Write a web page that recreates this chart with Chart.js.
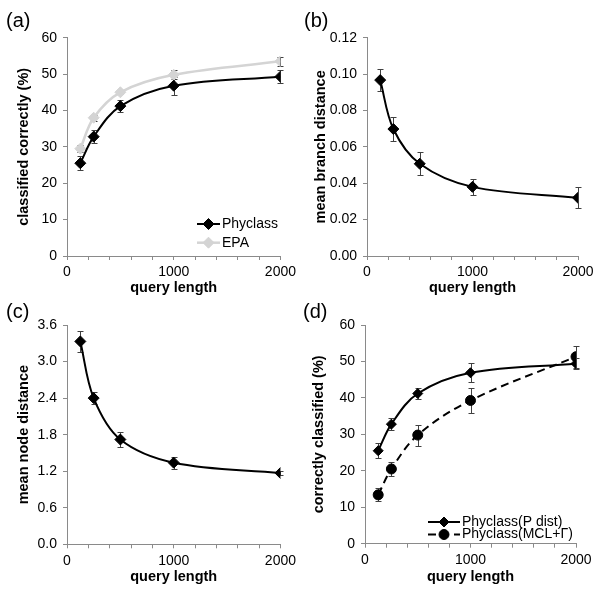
<!DOCTYPE html>
<html lang="en">
<head>
  <meta charset="UTF-8">
  <title>Phyclass accuracy vs query length</title>
  <!-- Chart.js -->
  <script src="https://cdn.jsdelivr.net/npm/chart.js@4.4.1/dist/chart.umd.min.js"></script>
  <style>
    body { margin: 0; background: #fff; }
    #fig { position: relative; width: 600px; height: 589px; }
    #fig canvas { position: absolute; }
  </style>
</head>
<body>
  <div id="fig">
    <canvas id="chartA" width="300" height="295" style="left:0;top:0"></canvas>
    <canvas id="chartB" width="300" height="295" style="left:300px;top:0"></canvas>
    <canvas id="chartC" width="300" height="294" style="left:0;top:295px"></canvas>
    <canvas id="chartD" width="300" height="294" style="left:300px;top:295px"></canvas>
  </div>
  <script>
    // valeurs
    const queryLengths = [125, 250, 500, 1000, 2000];
    const xTickLabels = [0, 1000, 2000];

    const phyclass = [25.5, 32.8, 41.2, 46.8, 49.3];
    const phyclassErr = [2.0, 1.7, 1.6, 2.5, 1.7];
    const epa = [29.5, 38.0, 45.0, 49.8, 53.5];
    const epaErr = [1.0, 0.8, 0.5, 1.2, 1.3];

    const branchDist = [0.0967, 0.0698, 0.0507, 0.0380, 0.0320];
    const branchErr = [0.0062, 0.0068, 0.0062, 0.0044, 0.0058];

    const nodeDist = [3.33, 2.40, 1.72, 1.34, 1.17];
    const nodeErr = [0.17, 0.10, 0.12, 0.10, 0.04];

    const pDist = [25.5, 32.8, 41.2, 46.9, 49.4];
    const pDistErr = [2.0, 1.6, 1.6, 2.6, 1.6];
    const mclGamma = [13.4, 20.5, 29.8, 39.3, 51.3];
    const mclGammaErr = [1.8, 1.8, 2.9, 3.4, 3.0];

    const axisGray = '#8a8a8a';
    Chart.defaults.font.family = 'Arial, "Liberation Sans", sans-serif';
    Chart.defaults.color = '#000';

    const pts = arr => queryLengths.map((x, i) => ({ x: x, y: arr[i] }));

    // barres d'erreur (dessinées avant les courbes)
    const errorBars = {
      id: 'errorBars',
      beforeDatasetsDraw(chart) {
        const { ctx, scales: { x, y } } = chart;
        ctx.save();
        ctx.strokeStyle = '#404040';
        ctx.lineWidth = 1;
        chart.data.datasets.forEach(ds => {
          if (!ds.errors) return;
          ds.data.forEach((p, i) => {
            const px = Math.round(x.getPixelForValue(p.x)) + 0.5;
            const top = Math.round(y.getPixelForValue(p.y + ds.errors[i])) + 0.5;
            const bot = Math.round(y.getPixelForValue(p.y - ds.errors[i])) + 0.5;
            ctx.beginPath();
            ctx.moveTo(px, top); ctx.lineTo(px, bot);
            ctx.moveTo(px - 3, top); ctx.lineTo(px + 3, top);
            ctx.moveTo(px - 3, bot); ctx.lineTo(px + 3, bot);
            ctx.stroke();
          });
        });
        ctx.restore();
      }
    };

    // légende à l'intérieur du graphique (trait + marqueur + texte)
    const boxLegend = {
      id: 'boxLegend',
      afterDraw(chart, args, opts) {
        if (!opts.show) return;
        const ctx = chart.ctx;
        ctx.save();
        chart.data.datasets.forEach((ds, i) => {
          const y = opts.y + i * opts.gap;
          ctx.strokeStyle = ds.borderColor;
          ctx.lineWidth = ds.borderWidth;
          ctx.setLineDash(ds.borderDash || []);
          ctx.beginPath();
          ctx.moveTo(opts.x, y);
          ctx.lineTo(opts.x + opts.len, y);
          ctx.stroke();
          ctx.setLineDash([]);
          ctx.fillStyle = ds.pointBackgroundColor;
          ctx.strokeStyle = ds.pointBorderColor;
          ctx.lineWidth = 1;
          Chart.helpers.drawPoint(ctx, { pointStyle: ds.pointStyle, radius: ds.pointRadius, rotation: 0, borderWidth: 1 }, opts.x + opts.len / 2, y);
          ctx.fillStyle = '#000';
          ctx.font = '14px Arial, "Liberation Sans", sans-serif';
          ctx.textBaseline = 'middle';
          ctx.textAlign = 'left';
          ctx.fillText(ds.label, opts.x + opts.len + 2, y);
        });
        ctx.restore();
      }
    };

    function series(label, arr, err, color, style, extra) {
      return Object.assign({
        label: label,
        data: pts(arr),
        errors: err,
        borderColor: color,
        borderWidth: 2,
        pointStyle: style,
        pointRadius: style === 'circle' ? 5 : 5.5,
        pointBackgroundColor: color,
        pointBorderColor: color,
        pointBorderWidth: 1,
        tension: 0.35,
        fill: false
      }, extra || {});
    }

    function panel(id, cfg) {
      return new Chart(document.getElementById(id), {
        type: 'line',
        data: { datasets: cfg.datasets },
        options: {
          responsive: false,
          animation: false,
          layout: { padding: cfg.pad },
          plugins: {
            legend: { display: false },
            tooltip: { enabled: false },
            title: {
              display: true, text: cfg.tag, align: 'start', color: '#000',
              font: { size: 20, weight: 'normal', lineHeight: 1.2 }, padding: cfg.tagPad
            },
            boxLegend: cfg.legend || { show: false }
          },
          scales: {
            x: {
              type: 'linear', min: 0, max: 2000,
              ticks: {
                stepSize: 200, autoSkip: false, maxRotation: 0, padding: 4,
                font: { size: 14 },
                callback: v => xTickLabels.includes(v) ? String(v) : ''
              },
              grid: { drawOnChartArea: false, tickLength: 4, color: axisGray },
              border: { color: axisGray },
              title: {
                display: true, text: 'query length',
                font: { size: 14.5, weight: 'bold', lineHeight: 1 },
                padding: { top: 0, bottom: cfg.xTitlePad }
              },
              afterFit(s) { s.height = cfg.xHeight; }
            },
            y: {
              min: 0, max: cfg.yMax,
              ticks: {
                stepSize: cfg.yStep, padding: 6,
                font: { size: 14 },
                callback: v => v.toFixed(cfg.dec)
              },
              grid: { drawOnChartArea: false, tickLength: 4, color: axisGray },
              border: { color: axisGray },
              title: {
                display: true, text: cfg.yTitle,
                font: { size: 14.5, weight: 'bold', lineHeight: 1.2 },
                padding: { top: cfg.yTitlePad, bottom: 0 }
              },
              afterFit(s) { s.width = cfg.yWidth; }
            }
          }
        },
        plugins: [errorBars, boxLegend]
      });
    }

    panel('chartA', {
      tag: '(a)', tagPad: { top: 9.5, bottom: 4.2 },
      pad: { left: 6, right: 17, top: 0, bottom: 0 },
      yWidth: 61, xHeight: 39, xTitlePad: 0, yTitlePad: 9.3,
      yMax: 60, yStep: 10, dec: 0, yTitle: 'classified correctly (%)',
      legend: { show: true, x: 197, y: 224, gap: 18.7, len: 23 },
      datasets: [
        series('Phyclass', phyclass, phyclassErr, '#000', 'rectRot'),
        series('EPA', epa, epaErr, '#d4d4d4', 'rectRot', { borderWidth: 2.5 })
      ]
    });

    panel('chartB', {
      tag: '(b)', tagPad: { top: 9.5, bottom: 4.2 },
      pad: { left: 4, right: 22, top: 0, bottom: 0 },
      yWidth: 63, xHeight: 39, xTitlePad: 0, yTitlePad: 8.3,
      yMax: 0.12, yStep: 0.02, dec: 2, yTitle: 'mean branch distance',
      datasets: [
        series('Phyclass', branchDist, branchErr, '#000', 'rectRot')
      ]
    });

    panel('chartC', {
      tag: '(c)', tagPad: { top: 5.5, bottom: 0.5 },
      pad: { left: 6, right: 17, top: 0, bottom: 0 },
      yWidth: 61, xHeight: 44.7, xTitlePad: 4.75, yTitlePad: 9.3,
      yMax: 3.6, yStep: 0.6, dec: 1, yTitle: 'mean node distance',
      datasets: [
        series('Phyclass', nodeDist, nodeErr, '#000', 'rectRot')
      ]
    });

    panel('chartD', {
      tag: '(d)', tagPad: { top: 5.5, bottom: 0.5 },
      pad: { left: 3, right: 24, top: 0, bottom: 0 },
      yWidth: 62, xHeight: 45.3, xTitlePad: 4.75, yTitlePad: 7.3,
      yMax: 60, yStep: 10, dec: 0, yTitle: 'correctly classified (%)',
      legend: { show: true, x: 128, y: 227, gap: 12.5, len: 32 },
      datasets: [
        series('Phyclass(P dist)', pDist, pDistErr, '#000', 'rectRot', { pointRadius: 5 }),
        series('Phyclass(MCL+Γ)', mclGamma, mclGammaErr, '#000', 'circle', { borderDash: [8, 5] })
      ]
    });
  </script>
</body>
</html>
